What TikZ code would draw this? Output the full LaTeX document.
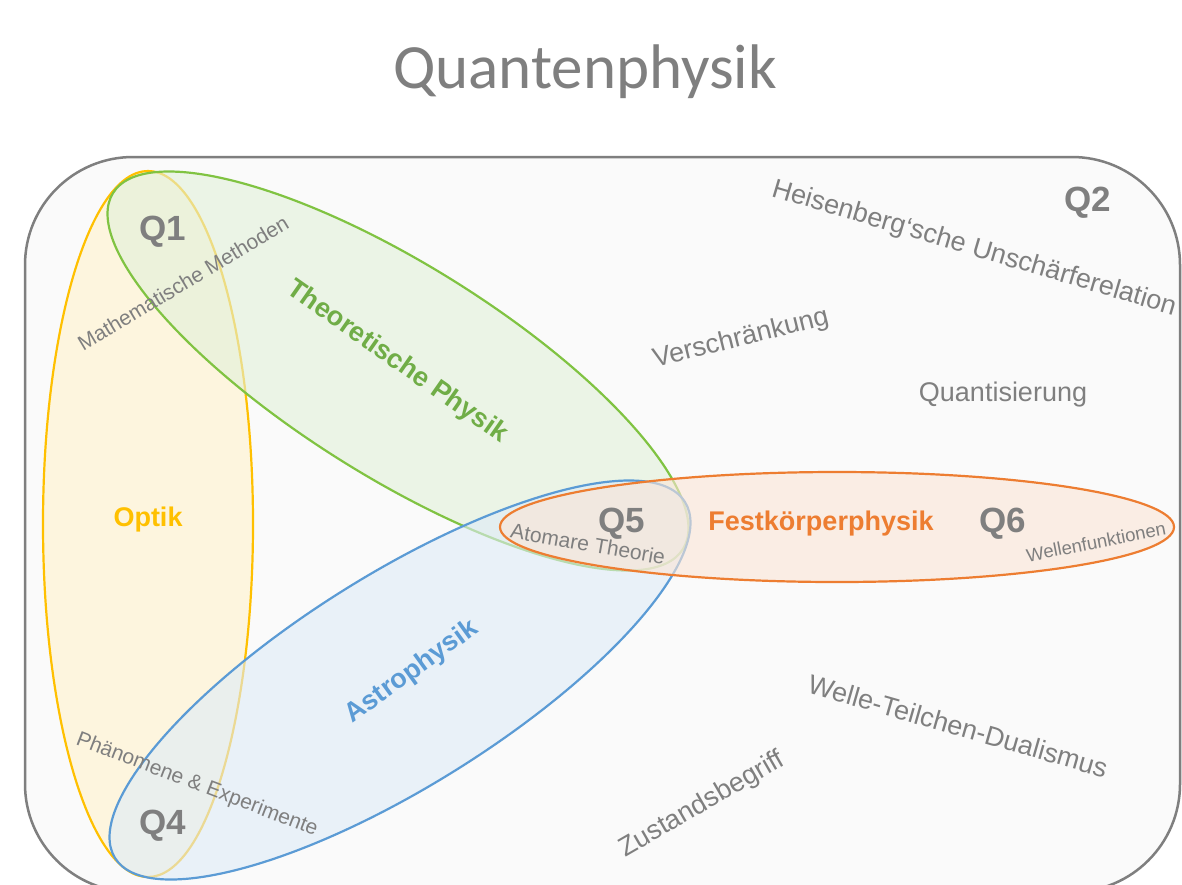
\documentclass[tikz,border=0pt]{standalone}
\usepackage{fontspec}
\setmainfont{Liberation Sans}
\newfontfamily\titelfont{Carlito}
\usepackage{tikz}

\definecolor{grautext}{HTML}{7F7F7F}
\definecolor{optikgelb}{HTML}{FFC000}
\definecolor{optikhell}{HTML}{FFF2CC}
\definecolor{theoriegruen}{HTML}{70AD47}
\definecolor{theorielinie}{HTML}{80C342}
\definecolor{theoriehell}{HTML}{E2F0D9}
\definecolor{astroblau}{HTML}{5B9BD5}
\definecolor{astrohell}{HTML}{DEEBF7}
\definecolor{festorange}{HTML}{ED7D31}
\definecolor{festhell}{HTML}{FBE5D6}

\begin{document}
\begin{tikzpicture}[x=1pt, y=-1pt,
  gebiet/.style={line width=2.2pt, fill opacity=0.6},
  begriff/.style={text=grautext, inner sep=0pt, font=\fontsize{27}{30}\selectfont},
  klein/.style={text=grautext, inner sep=0pt, font=\fontsize{21}{24}\selectfont},
  fach/.style={inner sep=0pt, font=\fontsize{27}{30}\selectfont\bfseries},
  quadrant/.style={text=grautext, inner sep=0pt, font=\fontsize{35}{40}\selectfont\bfseries}]

\useasboundingbox (0,0) rectangle (1182,884);
\fill[white] (0,0) rectangle (1182,884);

% title
\node[anchor=base, text=grautext, font=\titelfont\fontsize{63}{70}\selectfont] (titel) at (585,88) {Quantenphysik};

% frame
\draw[line width=2.5pt, draw=grautext, fill=black!2, rounded corners=108pt]
 (25,157) rectangle (1180,892);

% the four fields, each one laid over the last
\draw[gebiet, draw=optikgelb, fill=optikhell]
 (148,524) ellipse [x radius=105, y radius=353];
\draw[gebiet, draw=theorielinie, fill=theoriehell, rotate around={-32:(398,371)}]
 (398,371) ellipse [x radius=336, y radius=106];
\draw[gebiet, draw=astroblau, fill=astrohell, rotate around={32:(400,680)}]
 (400,680) ellipse [x radius=336, y radius=106];
\draw[gebiet, draw=festorange, fill=festhell]
 (837,527) ellipse [x radius=337, y radius=55];

% field names
\node[fach, text=optikgelb] (optik) at (148,520) {Optik};
\node[fach, text=theoriegruen, rotate=-35] (theorie) at (397,362) {Theoretische Physik};
\node[fach, text=astroblau, rotate=36] (astro) at (412,672) {Astrophysik};
\node[fach, text=festorange] (fest) at (821,524) {Festkörperphysik};

% quadrants
\node[quadrant] (q1) at (163,232) {Q1};
\node[quadrant] (q2) at (1088,203) {Q2};
\node[quadrant] (q4) at (163,826) {Q4};
\node[quadrant] (q5) at (622,524) {Q5};
\node[quadrant] (q6) at (1003,524) {Q6};

% topics
\node[klein, rotate=31] (methoden) at (183,283) {Mathematische Methoden};
\node[klein, rotate=-21] (phaenomene) at (197,785) {Phänomene \& Experimente};
\node[klein, rotate=-10] (atomar) at (588,544) {Atomare Theorie};
\node[klein, font=\fontsize{18.5}{21}\selectfont, rotate=11] (wellenfkt) at (1096,542) {Wellenfunktionen};
\node[begriff, rotate=-16.5] (heisenberg) at (974,249) {Heisenberg‘sche Unschärferelation};
\node[begriff, rotate=14] (verschraenkung) at (741,339) {Verschränkung};
\node[begriff] (quantisierung) at (1003,395) {Quantisierung};
\node[begriff, rotate=-16] (dualismus) at (958,726) {Welle-Teilchen-Dualismus};
\node[begriff, rotate=30] (zustand) at (702,805) {Zustandsbegriff};

\end{tikzpicture}
\end{document}
